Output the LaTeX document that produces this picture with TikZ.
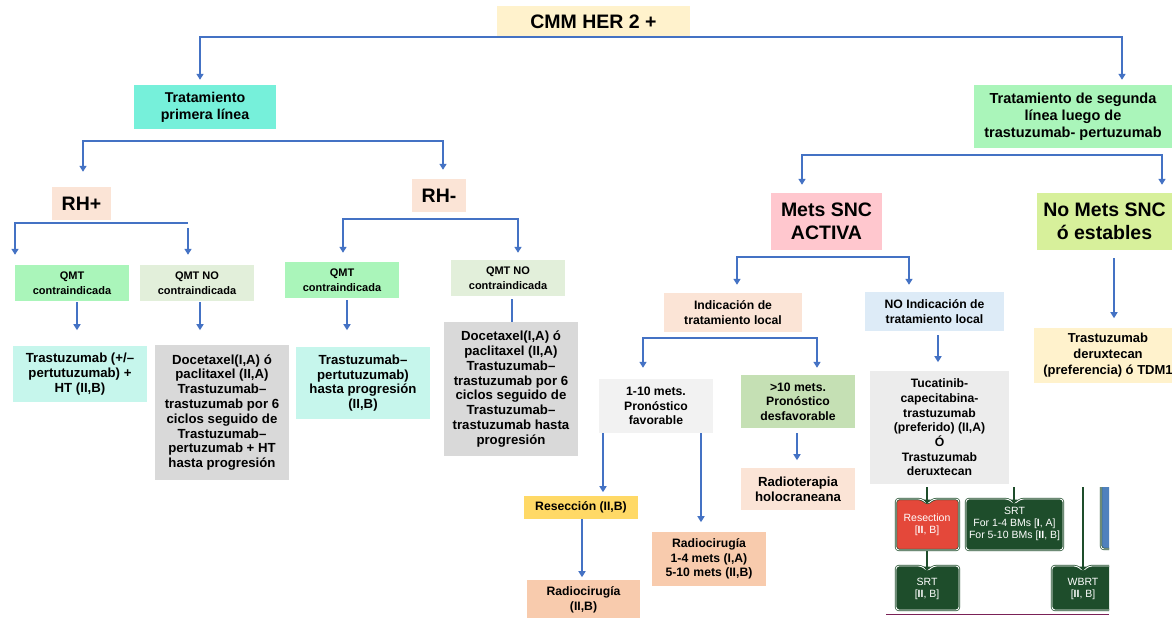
\documentclass[tikz,border=0pt]{standalone}
\usepackage{fontspec}
\setmainfont{Liberation Sans}
\usetikzlibrary{arrows.meta,positioning,calc}
\definecolor{linkblue}{RGB}{68,114,196}
\definecolor{creamfill}{RGB}{255,242,204}
\definecolor{aquafill}{RGB}{118,240,218}
\definecolor{mintfill}{RGB}{170,245,186}
\definecolor{peachfill}{RGB}{251,228,214}
\definecolor{pinkfill}{RGB}{255,199,206}
\definecolor{limefill}{RGB}{215,240,155}
\definecolor{palegreen}{RGB}{226,239,218}
\definecolor{cyanfill}{RGB}{198,246,236}
\definecolor{grayfill}{RGB}{217,217,217}
\definecolor{lightgray}{RGB}{242,242,242}
\definecolor{midgray}{RGB}{236,236,236}
\definecolor{sagefill}{RGB}{197,224,180}
\definecolor{bluefill}{RGB}{221,235,247}
\definecolor{goldfill}{RGB}{255,217,102}
\definecolor{salmonfill}{RGB}{248,203,173}
\definecolor{esgreen}{RGB}{30,77,43}
\definecolor{esred}{RGB}{228,72,58}
\definecolor{esblue}{RGB}{79,129,189}
\definecolor{espurple}{RGB}{123,33,87}

\newcommand{\fsz}[2]{\fontsize{#1}{#2}\selectfont}
% box with a notch on top (pasted guideline part)
\newcommand{\notchbox}[5]{%
  \draw[esframe, fill=#5] (#1,{(#2+#4)/2}) -- (#1,#2) -- ({(#1+#3)/2-6},#2) -- ({(#1+#3)/2},#2+5)
    -- ({(#1+#3)/2+6},#2) -- (#3,#2) -- (#3,#4) -- (#1,#4) -- cycle;}

\tikzset{
  box/.style={align=center, inner sep=0pt},
  fhuge/.style={font=\bfseries\fsz{19.5}{22.7}},
  fmid/.style={font=\bfseries\fsz{14.2}{16.8}},
  fbody/.style={font=\bfseries\fsz{13.2}{14.8}},
  fsmall/.style={font=\bfseries\fsz{12.2}{14.7}},
  ftiny/.style={font=\bfseries\fsz{11}{14.7}},
  arr/.style={linkblue, line width=2pt, -{Triangle[width=7pt,length=6pt]}},
  wire/.style={linkblue, line width=2pt},
  esframe/.style={draw=esgreen, double=white, double distance=0.9pt, line width=0.7pt, rounded corners=3pt},
  estext/.style={align=center, text=white, inner sep=0pt, font=\fsz{10.5}{11.7}},
  esarr/.style={esgreen, line width=2.2pt, -{Triangle[width=7pt,length=4.5pt]}},
}

\begin{document}
\begin{tikzpicture}[x=1pt, y=-1pt]
    \fill[white] (0,0) rectangle (1172,618);
    \useasboundingbox (0,0) rectangle (1172,618);

    % Top levels
    \node[box, fhuge, fill=creamfill, minimum width=193, minimum height=31] (cmm) at (593.5,21.5) {CMM HER 2 +};
    \node[box, fmid, fill=aquafill, minimum width=142, minimum height=44] (trat1) at (205,107) {Tratamiento\\primera línea};
    \node[box, fmid, fill=mintfill, minimum width=198, minimum height=63, font=\bfseries\fsz{14.5}{17}] (trat2) at (1073,116.5) {Tratamiento de segunda\\línea luego de\\trastuzumab- pertuzumab};

    % First line branch
    \node[box, fhuge, fill=peachfill, minimum width=59, minimum height=33] (rhp) at (81.5,203.5) {RH+};
    \node[box, fhuge, fill=peachfill, minimum width=54, minimum height=33] (rhm) at (439,195.5) {RH-};
    \node[box, ftiny, fill=mintfill, minimum width=114, minimum height=36] (qc1) at (72,283) {QMT\\contraindicada};
    \node[box, ftiny, fill=palegreen, minimum width=114, minimum height=36] (qn1) at (197,283) {QMT NO\\contraindicada};
    \node[box, ftiny, fill=mintfill, minimum width=114, minimum height=36] (qc2) at (342,280) {QMT\\contraindicada};
    \node[box, ftiny, fill=palegreen, minimum width=114, minimum height=36] (qn2) at (508,278) {QMT NO\\contraindicada};
    \node[box, fbody, fill=cyanfill, minimum width=134, minimum height=56] (tr1) at (80,374) {Trastuzumab (+/–\\pertutuzumab) +\\HT (II,B)};
    \node[box, fbody, fill=grayfill, minimum width=134, minimum height=135] (doc1) at (222,412.5) {Docetaxel(I,A) ó\\paclitaxel (II,A)\\Trastuzumab–\\trastuzumab por 6\\ciclos seguido de\\Trastuzumab–\\pertuzumab + HT\\hasta progresión};
    \node[box, fbody, fill=cyanfill, minimum width=134, minimum height=72] (tr2) at (363,383) {Trastuzumab–\\pertutuzumab)\\hasta progresión\\(II,B)};
    \node[box, fbody, fill=grayfill, minimum width=134, minimum height=134] (doc2) at (511,389) {Docetaxel(I,A) ó\\paclitaxel (II,A)\\Trastuzumab–\\trastuzumab por 6\\ciclos seguido de\\Trastuzumab–\\trastuzumab hasta\\progresión};

    % Second line branch
    \node[box, fhuge, fill=pinkfill, minimum width=111, minimum height=57] (snc) at (826.5,221.5) {Mets SNC\\ACTIVA};
    \node[box, fhuge, fill=limefill, minimum width=135, minimum height=57] (nosnc) at (1104.5,221.5) {No Mets SNC\\ó estables};
    \node[box, fsmall, fill=peachfill, minimum width=138, minimum height=39] (ind) at (733,312.5) {Indicación de\\tratamiento local};
    \node[box, fsmall, fill=bluefill, minimum width=139, minimum height=39] (noind) at (934.5,311.5) {NO Indicación de\\tratamiento local};
    \node[box, fsmall, fill=lightgray, minimum width=114, minimum height=54] (m110) at (656,406) {1-10 mets.\\Pronóstico\\favorable};
    \node[box, fsmall, fill=sagefill, minimum width=114, minimum height=53] (m10) at (798,401.5) {>10 mets.\\Pronóstico\\desfavorable};
    \node[box, fbody, fill=peachfill, minimum width=114, minimum height=42] (holo) at (798,489) {Radioterapia\\holocraneana};
    \node[box, fsmall, fill=goldfill, minimum width=114, minimum height=23] (resec) at (581,507.5) {Resección (II,B)};
    \node[box, fsmall, fill=salmonfill, minimum width=113, minimum height=40] (rad1) at (583.5,600) {Radiocirugía\\(II,B)};
    \node[box, fsmall, fill=salmonfill, minimum width=114, minimum height=54] (rad2) at (709,559) {Radiocirugía\\1-4 mets (I,A)\\5-10 mets (II,B)};
    \node[box, fsmall, fill=midgray, minimum width=139, minimum height=113] (tuc) at (939.5,427.5) {Tucatinib-\\capecitabina-\\trastuzumab\\(preferido) (II,A)\\Ó\\Trastuzumab\\deruxtecan};
    \node[box, fbody, fill=creamfill, minimum width=148, minimum height=55, font=\bfseries\fsz{13}{16}] (tdx) at (1108,355.5) {Trastuzumab\\deruxtecan\\(preferencia) ó TDM1};

    % Connectors
    \draw[arr] (cmm.south) -| ([xshift=-5pt,yshift=5pt]trat1.north);
    \draw[arr] (cmm.south) -| ([xshift=49pt,yshift=5pt]trat2.north);
    \draw[arr] ([yshift=-12pt]trat1.south) -| ([xshift=1.5pt,yshift=15pt]rhp.north);
    \draw[arr] ([yshift=-12pt]trat1.south) -| ([xshift=4pt,yshift=9pt]rhm.north);
    \draw[arr] ([yshift=-3pt]rhp.south) -| ([xshift=-57pt,yshift=10pt]qc1.north);
    \draw[wire] ([yshift=-3pt]rhp.south) -- ++(106.5,0);
    \draw[arr] ([xshift=-9pt,yshift=37pt]qn1.north) -- ++(0,27);
    \draw[arr] ([yshift=-7pt]rhm.south) -| ([xshift=1pt,yshift=9pt]qc2.north);
    \draw[arr] ([yshift=-7pt]rhm.south) -| ([xshift=10pt,yshift=7pt]qn2.north);
    \draw[arr] ([xshift=5pt,yshift=-1pt]qc1.south) -- ++(0,28);
    \draw[arr] ([xshift=3pt,yshift=-1pt]qn1.south) -- ++(0,28);
    \draw[arr] ([xshift=5pt,yshift=-2pt]qc2.south) -- ++(0,30);
    \draw[wire] ([xshift=4pt,yshift=-3pt]qn2.south) -- ([xshift=1pt]doc2.north);
    \draw[arr] ([yshift=-7pt]trat2.south) -| ([xshift=-24.5pt,yshift=8pt]snc.north);
    \draw[arr] ([yshift=-7pt]trat2.south) -| ([xshift=57.5pt,yshift=8pt]nosnc.north);
    \draw[arr] ([yshift=-7pt]snc.south) -| ([xshift=4pt,yshift=8pt]ind.north);
    \draw[arr] ([yshift=-7pt]snc.south) -| ([xshift=-25.5pt,yshift=7pt]noind.north);
    \draw[arr] ([xshift=9.5pt,yshift=-8pt]nosnc.south) -- ++(0,60);
    \draw[arr] ([yshift=-6pt]ind.south) -| ([xshift=-13pt,yshift=11pt]m110.north);
    \draw[arr] ([yshift=-6pt]ind.south) -| ([xshift=19pt,yshift=7pt]m10.north);
    \draw[arr] ([xshift=-1pt,yshift=-5pt]m10.south) -- ++(0,27);
    \draw[arr] ([xshift=-53pt]m110.south) -- ++(0,59);
    \draw[arr] ([xshift=45pt]m110.south) -- ++(0,89);
    \draw[arr] ([xshift=1pt]resec.south) -- ++(0,58);
    \draw[arr] ([xshift=3.5pt,yshift=-4pt]noind.south) -- ++(0,27);

    % Pasted guideline part
    \begin{scope}
        \clip (886,487) rectangle (1109,618);
        \draw[esframe, fill=esblue] (1101,460) rectangle (1130,549);
        \notchbox{896}{499}{959}{550}{esred}
        \notchbox{966}{499}{1063}{550}{esgreen}
        \notchbox{896}{566}{959}{610}{esgreen}
        \notchbox{1052}{566}{1114}{610}{esgreen}
        \draw[esarr] (927,480) -- (927,504);
        \draw[esarr] (1014,480) -- (1014,504);
        \draw[esarr] (927,551) -- (927,571);
        \draw[esarr] (1083,480) -- (1083,571);
        \node[estext] (esresec) at (927,525) {Resection\\{[}\textbf{II}, B{]}};
        \node[estext] (essrta) at (1014.5,524) {SRT\\For 1-4 BMs {[}\textbf{I}, A{]}\\For 5-10 BMs {[}\textbf{II}, B{]}};
        \node[estext] (essrtb) at (927,589) {SRT\\{[}\textbf{II}, B{]}};
        \node[estext] (eswbrt) at (1083,589) {WBRT\\{[}\textbf{II}, B{]}};
        \draw[espurple, line width=1.5pt] (886,614.5) -- (1109,614.5);
    \end{scope}
\end{tikzpicture}
\end{document}
